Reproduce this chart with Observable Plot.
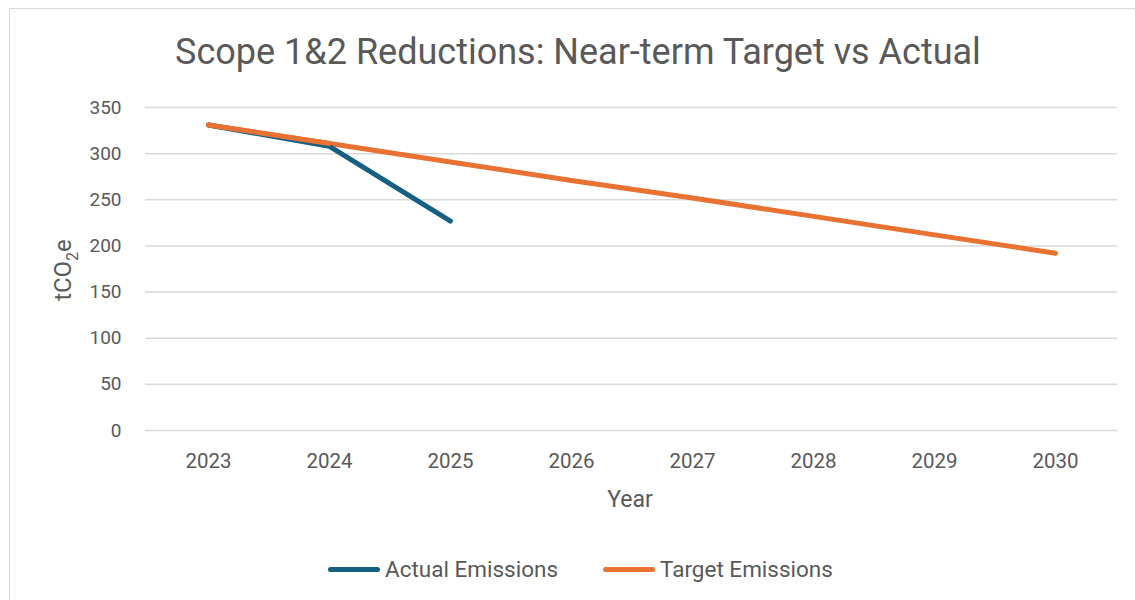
<!DOCTYPE html>
<html>
<head>
<meta charset="utf-8">
<script src="https://cdn.jsdelivr.net/npm/d3@7"></script>
<script src="https://cdn.jsdelivr.net/npm/@observablehq/plot@0.6"></script>
<style>
  html, body { margin: 0; padding: 0; background: #fff; }
  #wrap { position: relative; width: 1135px; height: 600px; overflow: hidden; font-family: Roboto, "Open Sans", sans-serif; }
  #frame { position: absolute; left: 9px; top: 8px; width: 1140px; height: 600px; border-left: 1.5px solid #d9d9d9; border-top: 1.5px solid #d9d9d9; box-sizing: border-box; }
  #title { position: absolute; left: 0; width: 1156px; top: 31px; text-align: center; font-size: 36px; color: #595959; }
  #chart { position: absolute; left: 0; top: 80px; }
  #legend { position: absolute; top: 556px; left: 0; width: 1135px; height: 30px; }
  .item { position: absolute; top: 0; display: flex; align-items: center; font-size: 22.5px; color: #595959; }
  .sw { width: 52px; height: 5px; border-radius: 3px; margin-right: 5px; }
</style>
</head>
<body>
<div id="wrap">
  <div id="frame"></div>
  <div id="title">Scope 1&amp;2 Reductions: Near-term Target vs Actual</div>
  <div id="chart"></div>
  <div id="legend"></div>
</div>
<script>
const years = ["2023", "2024", "2025", "2026", "2027", "2028", "2029", "2030"];
const actualYears = ["2023", "2024", "2025"];
const actualValues = [331, 308, 227];
const targetValues = [331, 311, 291, 271, 252, 232, 212, 192];
const yTicks = [0, 50, 100, 150, 200, 250, 300, 350];
const seriesNames = ["Actual Emissions", "Target Emissions"];
const seriesColors = ["#156082", "#e97132"];

const actual = actualYears.map((y, i) => ({year: y, value: actualValues[i]}));
const target = years.map((y, i) => ({year: y, value: targetValues[i]}));

const chart = Plot.plot({
  width: 1135,
  height: 440,
  marginLeft: 145,
  marginRight: 18,
  marginTop: 27,
  marginBottom: 90,
  style: {fontFamily: "Roboto, 'Open Sans', sans-serif", color: "#595959", background: "transparent"},
  x: {type: "point", domain: years, padding: 0.5, label: null},
  y: {domain: [0, 350], ticks: yTicks, label: null},
  marks: [
    Plot.ruleY(yTicks, {stroke: "#d9d9d9", strokeWidth: 1.5}),
    Plot.axisY({ticks: yTicks, tickSize: 0, tickPadding: 24, fontSize: 19, fill: "#595959", label: null}),
    Plot.axisX({tickSize: 0, tickPadding: 23, fontSize: 20.5, fill: "#595959", label: null}),
    Plot.line(target, {x: "year", y: "value", stroke: seriesColors[1], strokeWidth: 5, strokeLinecap: "round", strokeLinejoin: "round"}),
    Plot.line(actual, {x: "year", y: "value", stroke: seriesColors[0], strokeWidth: 5, strokeLinecap: "round", strokeLinejoin: "round"}),
    Plot.line(target.slice(0, 2), {x: "year", y: "value", stroke: seriesColors[1], strokeWidth: 5, strokeLinecap: "round"})
  ]
});
document.getElementById("chart").appendChild(chart);

const svg = d3.select(chart);
// x axis title
svg.append("text")
  .attr("x", 630).attr("y", 421)
  .attr("text-anchor", "middle").attr("dominant-baseline", "middle")
  .attr("font-size", 23).attr("fill", "#595959")
  .text("Year");
// rotated y label with subscript
const yl = svg.append("text")
  .attr("transform", "translate(71,190) rotate(-90)")
  .attr("text-anchor", "middle")
  .attr("font-size", 24)
  .attr("fill", "#595959");
yl.append("tspan").text("tCO");
yl.append("tspan").attr("font-size", 16).attr("dy", 7).text("2");
yl.append("tspan").attr("dy", -7).text("e");

const legend = document.getElementById("legend");
const lefts = [328, 603];
seriesNames.forEach((n, i) => {
  const d = document.createElement("div");
  d.className = "item";
  d.style.left = lefts[i] + "px";
  d.innerHTML = `<div class="sw" style="background:${seriesColors[i]}"></div><span>${n}</span>`;
  legend.appendChild(d);
});
</script>
</body>
</html>
